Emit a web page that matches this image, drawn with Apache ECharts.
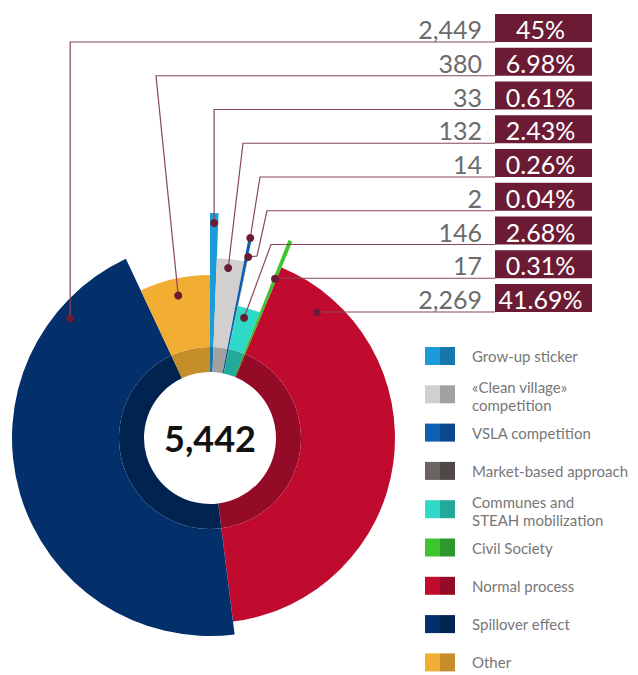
<!DOCTYPE html>
<html>
<head>
<meta charset="utf-8">
<script src="https://cdn.jsdelivr.net/npm/echarts@6/dist/echarts.min.js"></script>
<style>
  html, body { margin: 0; padding: 0; background: #ffffff; }
  #chart { width: 638px; height: 675px; }
</style>
</head>
<body>
<div id="chart"></div>
<script>
// Slices run clockwise from 12 o'clock in this order
const categories = [
  'Grow-up sticker', '«Clean village» competition', 'VSLA competition',
  'Market-based approach', 'Communes and STEAH mobilization', 'Civil Society',
  'Normal process', 'Spillover effect', 'Other'
];
const legendLabels = [
  'Grow-up sticker', '«Clean village»\ncompetition', 'VSLA competition',
  'Market-based approach', 'Communes and\nSTEAH mobilization', 'Civil Society',
  'Normal process', 'Spillover effect', 'Other'
];
const values = [33, 132, 14, 2, 146, 17, 2269, 2449, 380];
const valueLabels = ['33', '132', '14', '2', '146', '17', '2,269', '2,449', '380'];
const percentLabels = ['0.61%', '2.43%', '0.26%', '0.04%', '2.68%', '0.31%', '41.69%', '45%', '6.98%'];
const totalLabel = '5,442';
// Rows of the value table, top to bottom (indices into categories)
const tableOrder = [7, 8, 0, 1, 2, 3, 4, 5, 6];

// ---- styling ----
const lightColors = ['#1d9ad8', '#d1d0ce', '#0d5fb4', '#6a6360', '#2fd9c8', '#3cc52c', '#c00b2f', '#03306b', '#f2ad33'];
const darkColors  = ['#1677ad', '#a3a19f', '#0a4a8c', '#4e4846', '#22a99b', '#2c9a2a', '#940b27', '#00234f', '#c68d2b'];
const outerRadius = [225, 180, 205, 187, 135, 213, 185, 198, 163];
const CX = 210, CY = 438;
const INNER_R = 66, RING_R = 91;

// leader anchor: position inside the slice (fraction of its arc, radius) and route
const leaders = {
  7: { f: 0.85,  r: 184, corner: null },
  8: { f: 0.5,   r: 146, corner: 156 },
  0: { f: 0.5,   r: 215, corner: null },
  1: { f: 0.45,  r: 171, corner: 243 },
  2: { f: 0.5,   r: 204, corner: 260 },
  3: { f: 0.5,   r: 185, corner: 267, bend: [257, 256] },
  4: { f: 0.4,   r: 125, corner: 271 },
  5: { f: 0.5,   r: 172, corner: null },
  6: { f: 0.117, r: 165, corner: null }
};

const ROW_TOP = 14, ROW_STEP = 33.75, BOX_H = 28;
const NUM_RIGHT = 482, BOX_X = 495, BOX_W = 97;
const MAROON = '#6c1b34';
const LINE = '#86485a';

const total = values.reduce((a, b) => a + b, 0);
const cum = [];
values.reduce((acc, v, i) => { cum[i] = acc; return acc + v; }, 0);

function polar(angleFrac, r) {
  const t = angleFrac * Math.PI * 2;
  return [CX + r * Math.sin(t), CY - r * Math.cos(t)];
}

const pieBase = {
  type: 'pie',
  center: [CX, CY],
  startAngle: 90,
  clockwise: true,
  silent: true,
  animation: false,
  avoidLabelOverlap: false,
  label: { show: false },
  labelLine: { show: false },
  emphasis: { disabled: true }
};

const series = [];
// darker inner ring
series.push(Object.assign({}, pieBase, {
  radius: [INNER_R, RING_R],
  data: categories.map((name, i) => ({
    name, value: values[i],
    itemStyle: { color: darkColors[i], borderWidth: 0 }
  }))
}));
// one outer ring per slice so each can reach its own radius
categories.forEach((_, k) => {
  series.push(Object.assign({}, pieBase, {
    radius: [RING_R, outerRadius[k]],
    data: categories.map((name, i) => ({
      name, value: values[i],
      itemStyle: i === k
        ? { color: lightColors[i], borderWidth: 0 }
        : { color: 'rgba(0,0,0,0)', borderWidth: 0 }
    }))
  }));
});

const graphics = [];

// value table with leader lines
tableOrder.forEach((idx, row) => {
  const top = ROW_TOP + row * ROW_STEP;
  const lineY = top + BOX_H;
  const spec = leaders[idx];
  const dot = polar((cum[idx] + spec.f * values[idx]) / total, spec.r);
  const pts = [dot];
  if (spec.bend) pts.push(spec.bend);
  const cornerX = spec.corner === null ? dot[0] : spec.corner;
  pts.push([cornerX, lineY]);
  pts.push([BOX_X, lineY]);
  graphics.push({
    type: 'polyline', z: 100, silent: true,
    shape: { points: pts },
    style: { stroke: LINE, lineWidth: 1.2, fill: null }
  });
  graphics.push({
    type: 'circle', z: 101, silent: true,
    shape: { cx: dot[0], cy: dot[1], r: 4 },
    style: { fill: MAROON }
  });
  graphics.push({
    type: 'text', z: 101, silent: true,
    style: {
      text: valueLabels[idx], x: NUM_RIGHT, y: top + BOX_H / 2 + 1,
      textAlign: 'right', textVerticalAlign: 'middle',
      font: '25px Lato', fill: '#6b6b6b'
    }
  });
  graphics.push({
    type: 'rect', z: 100, silent: true,
    shape: { x: BOX_X, y: top, width: BOX_W, height: BOX_H },
    style: { fill: MAROON }
  });
  graphics.push({
    type: 'text', z: 101, silent: true,
    style: {
      text: percentLabels[idx], x: BOX_X + BOX_W / 2 - 3, y: top + BOX_H / 2 + 1,
      textAlign: 'center', textVerticalAlign: 'middle',
      font: '25px Lato', fill: '#ffffff'
    }
  });
});

// total in the middle
graphics.push({
  type: 'text', z: 101, silent: true,
  style: {
    text: totalLabel, x: CX, y: CY,
    textAlign: 'center', textVerticalAlign: 'middle',
    font: 'bold 36px Lato', fill: '#111111'
  }
});

// legend with two-tone swatches
const LEG_X = 425, LEG_TOP = 347, LEG_STEP = 38.3, SW_W = 30, SW_H = 18;
categories.forEach((_, i) => {
  const y = LEG_TOP + i * LEG_STEP;
  graphics.push({
    type: 'rect', silent: true,
    shape: { x: LEG_X, y, width: SW_W / 2, height: SW_H },
    style: { fill: lightColors[i] }
  });
  graphics.push({
    type: 'rect', silent: true,
    shape: { x: LEG_X + SW_W / 2, y, width: SW_W / 2, height: SW_H },
    style: { fill: darkColors[i] }
  });
  const twoLine = legendLabels[i].indexOf('\n') >= 0;
  graphics.push({
    type: 'text', silent: true,
    style: {
      text: legendLabels[i], x: 472, y: y + SW_H / 2 + (twoLine ? 2 : 0),
      textAlign: 'left', textVerticalAlign: 'middle',
      font: '15px Lato', lineHeight: 18, fill: '#777777'
    }
  });
});

const chart = echarts.init(document.getElementById('chart'), null, { renderer: 'svg' });
chart.setOption({
  backgroundColor: '#ffffff',
  animation: false,
  series,
  graphic: { elements: graphics }
});
</script>
</body>
</html>
